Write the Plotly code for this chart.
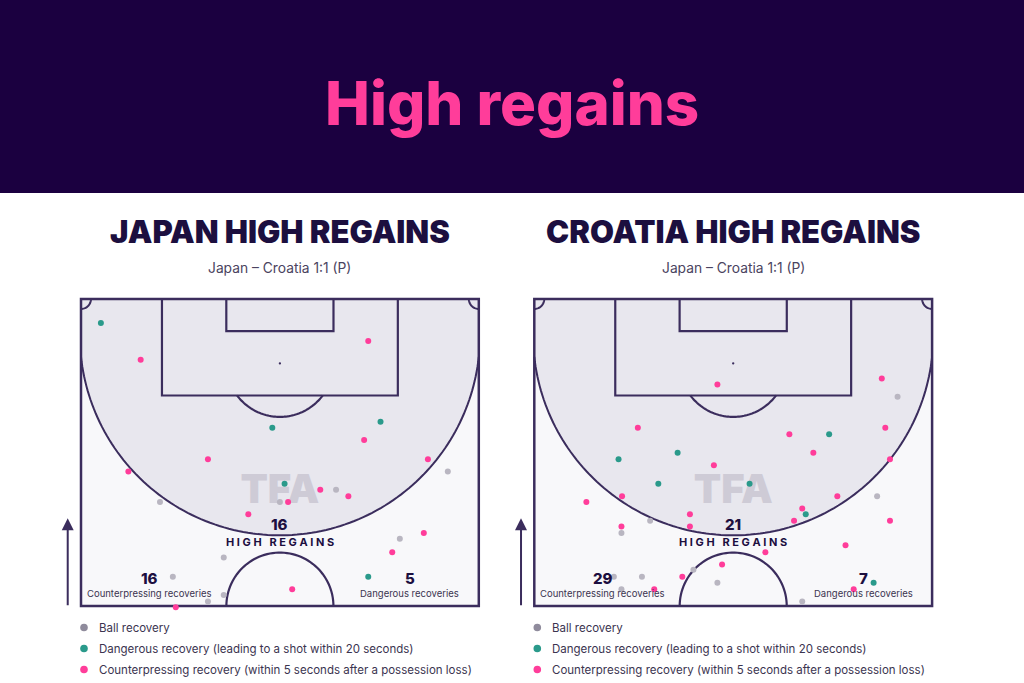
import numpy as np
import plotly.graph_objects as go

# ---------------- data (pitch metres: x across 0-68, y from halfway line 0 to goal line 52.5) -------------
teams = ["JAPAN", "CROATIA"]
match_label = "Japan – Croatia 1:1 (P)"

japan_ball_x = [62.7, 43.6, 13.5, 34.0, 54.5, 24.4, 15.7, 24.4, 21.7]
japan_ball_y = [23.0, 19.9, 17.8, 17.8, 11.5, 8.3, 5.0, 1.9, 0.8]
japan_danger_x = [3.4, 32.7, 51.2, 34.8, 49.1]
japan_danger_y = [48.4, 30.5, 31.5, 20.9, 5.0]
japan_counter_x = [49.1, 10.2, 48.4, 21.7, 59.3, 8.1, 40.9, 45.7, 35.4, 28.6, 58.6, 53.2, 36.1, 16.2]
japan_counter_y = [45.3, 42.1, 28.4, 25.1, 25.1, 23.0, 19.9, 18.8, 17.8, 15.7, 12.5, 9.2, 2.9, -0.2]

croatia_ball_x = [62.1, 58.6, 19.8, 14.9, 18.4, 13.6, 14.9, 31.3, 45.8, 27.2]
croatia_ball_y = [35.8, 18.8, 14.6, 12.5, 5.0, 5.0, 2.9, 4.0, 0.8, 6.2]
croatia_danger_x = [50.4, 24.5, 14.4, 21.2, 36.8, 46.4, 58.0]
croatia_danger_y = [29.4, 26.2, 25.1, 20.9, 20.9, 15.7, 4.0]
croatia_counter_x = [31.3, 59.4, 60.0, 17.7, 43.6, 47.7, 30.7, 60.8, 15.0, 8.9, 51.8, 45.8,
                     26.6, 44.4, 26.6, 14.9, 60.8, 53.2, 39.5, 32.1, 25.3, 20.5, 54.6]
croatia_counter_y = [37.9, 38.9, 30.5, 30.5, 29.4, 26.2, 24.1, 25.1, 18.8, 17.8, 18.8, 16.7,
                     15.7, 14.6, 13.6, 13.6, 14.6, 10.4, 9.2, 7.1, 5.0, 2.9, 2.9]

high_regains = [16, 21]
counterpressing = [16, 29]
dangerous = [5, 7]

legend_labels = ["Ball recovery",
                 "Dangerous recovery (leading to a shot within 20 seconds)",
                 "Counterpressing recovery (within 5 seconds after a possession loss)"]

# ---------------- styling ----------------
W, H = 1024, 683
S = 5.85          # px per metre
PAD = 3.0         # metres of padding around pitch inside axes
PL, PWID = 68.0, 52.5
pitch_left_px = [81.0, 534.3]
pitch_top_px = 299.0

NAVY = "#1b0040"
PINK = "#ff3d9a"
TEAL = "#2a9a8b"
GREY = "#b9b6c1"
LINE = "#3b2d5d"
DARK = "#1c0f3f"
INNER = "#e8e7ee"
OUTER = "#f8f8fa"
FONT = "Inter"

fig = go.Figure()

# banner
fig.add_shape(type="rect", xref="paper", yref="paper", x0=0, x1=1, y0=1 - 193 / H, y1=1,
              fillcolor=NAVY, line_width=0, layer="below")
fig.add_annotation(text="High regains", xref="paper", yref="paper", x=0.5, y=1 - 103 / H,
                   showarrow=False, font=dict(family=FONT, size=60, color=PINK, weight=800),
                   xanchor="center", yanchor="middle")

# arc parameters (zone boundary)
arc_cx, arc_cy, arc_r = 34.0, 46.3, 34.2
t0 = np.arcsin(34.0 / arc_r)
tt = np.linspace(-t0, t0, 120)
arc_x = arc_cx + arc_r * np.sin(tt)
arc_y = arc_cy - arc_r * np.cos(tt)
arc_pts = " ".join(f"L{x:.3f},{y:.3f}" for x, y in zip(arc_x, arc_y))


def arc_path(cx, cy, r, a0, a1, n=60):
    a = np.linspace(a0, a1, n)
    xs = cx + r * np.cos(a)
    ys = cy + r * np.sin(a)
    return "M" + " L".join(f"{x:.3f},{y:.3f}" for x, y in zip(xs, ys))


all_data = [
    (japan_ball_x, japan_ball_y, japan_danger_x, japan_danger_y, japan_counter_x, japan_counter_y),
    (croatia_ball_x, croatia_ball_y, croatia_danger_x, croatia_danger_y, croatia_counter_x, croatia_counter_y),
]

for i in range(2):
    xa = "x" if i == 0 else "x2"
    ya = "y" if i == 0 else "y2"
    xname = "xaxis" if i == 0 else "xaxis2"
    yname = "yaxis" if i == 0 else "yaxis2"
    left_px = pitch_left_px[i]
    x0px = left_px - PAD * S
    x1px = left_px + (PL + PAD) * S
    y_top_px = pitch_top_px - PAD * S
    y_bot_px = pitch_top_px + (PWID + PAD) * S
    fig.update_layout({
        xname: dict(domain=[x0px / W, x1px / W], range=[-PAD, PL + PAD], visible=False, fixedrange=True),
        yname: dict(domain=[1 - y_bot_px / H, 1 - y_top_px / H], range=[-PAD, PWID + PAD],
                    visible=False, fixedrange=True),
    })
    cx_px = left_px + 34 * S

    def shp(**kw):
        kw.setdefault("layer", "below")
        fig.add_shape(xref=xa, yref=ya, **kw)

    # base fills
    shp(type="rect", x0=0, x1=PL, y0=0, y1=PWID, fillcolor=OUTER, line_width=0)
    zone = f"M0,{PWID} L0,{arc_y[0]:.3f} {arc_pts} L{PL},{PWID} Z"
    shp(type="path", path=zone, fillcolor=INNER, line_width=0)
    # zone arc line
    shp(type="path", path="M" + arc_pts[1:], line=dict(color=LINE, width=2))
    # penalty box & goal area
    shp(type="path", path=f"M13.84,{PWID} L13.84,36 L54.16,36 L54.16,{PWID}", line=dict(color=LINE, width=2.2))
    shp(type="path", path=f"M24.84,{PWID} L24.84,47 L43.16,47 L43.16,{PWID}", line=dict(color=LINE, width=2.2))
    # penalty spot
    shp(type="circle", x0=34 - 0.2, x1=34 + 0.2, y0=41.5 - 0.2, y1=41.5 + 0.2, fillcolor=LINE, line_width=0)
    # penalty arc (part below box line y=36)
    a = np.arcsin(5.5 / 9.15)
    shp(type="path", path=arc_path(34, 41.5, 9.15, np.pi + a, 2 * np.pi - a), line=dict(color=LINE, width=2.2))
    # centre circle half
    shp(type="path", path=arc_path(34, 0, 9.15, 0, np.pi), line=dict(color=LINE, width=2.2))
    # corner arcs
    shp(type="path", path=arc_path(0, PWID, 1.7, -np.pi / 2, 0, 20), line=dict(color=LINE, width=2))
    shp(type="path", path=arc_path(PL, PWID, 1.7, np.pi, 1.5 * np.pi, 20), line=dict(color=LINE, width=2))
    # outline
    shp(type="rect", x0=0, x1=PL, y0=0, y1=PWID, line=dict(color=LINE, width=2.5))

    # direction arrow
    fig.add_annotation(xref=xa, yref=ya, axref=xa, ayref=ya, x=-2.27, y=15.0, ax=-2.27, ay=-0.1,
                       text="", showarrow=True, arrowhead=2, arrowsize=1.2, arrowwidth=2, arrowcolor=LINE)

    bx, by, dx, dy, cxs, cys = all_data[i]
    # watermark
    fig.add_trace(go.Scatter(x=[34], y=[19.4], xaxis=xa, yaxis=ya, mode="text", text=["TFA"],
                             textfont=dict(family=FONT, size=40, color="#cecbd6", weight=900),
                             hoverinfo="skip", showlegend=False))
    for xs, ys, col in [(bx, by, GREY), (dx, dy, TEAL), (cxs, cys, PINK)]:
        fig.add_trace(go.Scatter(x=xs, y=ys, xaxis=xa, yaxis=ya, mode="markers",
                                 marker=dict(size=6, color=col, line_width=0),
                                 showlegend=False, cliponaxis=False))

    # titles
    fig.add_annotation(xref="paper", yref="paper", x=cx_px / W, y=1 - 231 / H, showarrow=False,
                       xanchor="center", yanchor="middle",
                       text=f"{teams[i]} HIGH REGAINS",
                       font=dict(family=FONT, size=31, color=DARK, weight=900))
    fig.add_annotation(xref="paper", yref="paper", x=cx_px / W, y=1 - 268 / H, showarrow=False,
                       xanchor="center", yanchor="middle",
                       text=match_label, font=dict(family=FONT, size=13.8, color="#4a4360"))

    # in-pitch labels
    fig.add_annotation(xref=xa, yref=ya, x=34, y=14.0, showarrow=False, text=str(high_regains[i]),
                       xanchor="center", yanchor="middle",
                       font=dict(family=FONT, size=15, color=DARK, weight=800))
    fig.add_annotation(xref=xa, yref=ya, x=34, y=10.9, showarrow=False,
                       xanchor="center", yanchor="middle",
                       text="H I G H   R E G A I N S",
                       font=dict(family=FONT, size=11, color=DARK, weight=700))
    fig.add_annotation(xref=xa, yref=ya, x=11.7, y=4.8, showarrow=False, text=str(counterpressing[i]),
                       xanchor="center", yanchor="middle",
                       font=dict(family=FONT, size=15, color=DARK, weight=800))
    fig.add_annotation(xref=xa, yref=ya, x=11.7, y=2.1, showarrow=False, text="Counterpressing recoveries",
                       xanchor="center", yanchor="middle",
                       font=dict(family=FONT, size=9.5, color="#3b3450"))
    fig.add_annotation(xref=xa, yref=ya, x=56.2, y=4.8, showarrow=False, text=str(dangerous[i]),
                       xanchor="center", yanchor="middle",
                       font=dict(family=FONT, size=15, color=DARK, weight=800))
    fig.add_annotation(xref=xa, yref=ya, x=56.2, y=2.1, showarrow=False, text="Dangerous recoveries",
                       xanchor="center", yanchor="middle",
                       font=dict(family=FONT, size=9.5, color="#3b3450"))

    # legend
    dot_x = left_px + 3.0
    for k, (lab, col) in enumerate(zip(legend_labels, ["#8f8b9c", TEAL, PINK])):
        ypx = 627.5 + k * 21
        r = 3.8
        fig.add_shape(type="circle", xref="paper", yref="paper",
                      x0=(dot_x - r) / W, x1=(dot_x + r) / W, y0=1 - (ypx + r) / H, y1=1 - (ypx - r) / H,
                      fillcolor=col, line_width=0)
        fig.add_annotation(xref="paper", yref="paper", x=(dot_x + 12.5) / W, y=1 - ypx / H,
                           xanchor="left", yanchor="middle", showarrow=False, text=lab,
                           font=dict(family=FONT, size=11.5, color="#3b3450"))

fig.update_layout(width=W, height=H, margin=dict(l=0, r=0, t=0, b=0),
                  paper_bgcolor="white", plot_bgcolor="rgba(0,0,0,0)", showlegend=False)

fig.write_html("out.html", config={"displayModeBar": False},
               post_script="document.body.style.margin='0';")
